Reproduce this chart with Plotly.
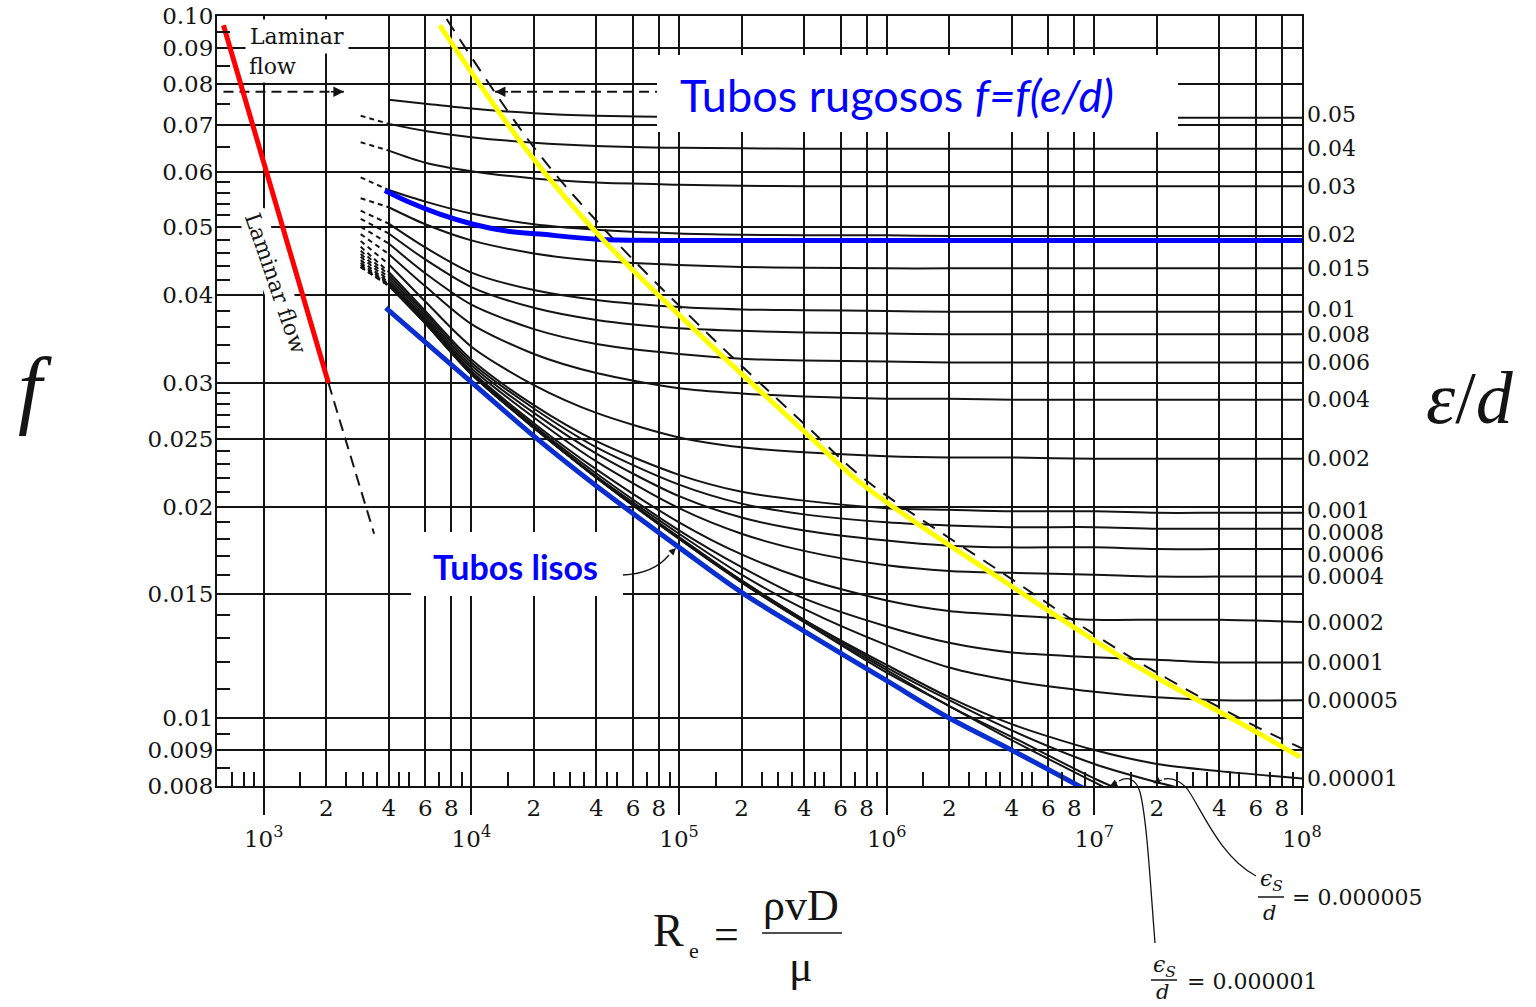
import math
import plotly.graph_objects as go

# ---------------- data ----------------
re_grid = [4e3, 6e3, 1e4, 2e4, 4e4, 1e5, 2e5, 4e5, 1e6, 2e6, 4e6, 1e7, 2e7, 4e7, 1e8]

rough_labels = ["0.05", "0.04", "0.03", "0.02", "0.015", "0.01", "0.008", "0.006", "0.004",
                "0.002", "0.001", "0.0008", "0.0006", "0.0004", "0.0002", "0.0001",
                "0.00005", "0.00001"]

f_0_05 = [0.0760, 0.0750, 0.0738, 0.0727, 0.0721, 0.0718, 0.0717, 0.0716, 0.0716, 0.0716, 0.0716, 0.0716, 0.0716, 0.0716, 0.0716]
f_0_04 = [0.0702, 0.0686, 0.0672, 0.0660, 0.0653, 0.0649, 0.0648, 0.0647, 0.0647, 0.0647, 0.0647, 0.0647, 0.0647, 0.0647, 0.0647]
f_0_03 = [0.0643, 0.0618, 0.0601, 0.0587, 0.0579, 0.0575, 0.0573, 0.0572, 0.0572, 0.0572, 0.0572, 0.0572, 0.0572, 0.0572, 0.0572]
f_0_02 = [0.0565, 0.0544, 0.0523, 0.0505, 0.0496, 0.0490, 0.0488, 0.0487, 0.0487, 0.0486, 0.0486, 0.0486, 0.0486, 0.0486, 0.0486]
f_0_015 = [0.0534, 0.0505, 0.0479, 0.0459, 0.0448, 0.0442, 0.0439, 0.0438, 0.0437, 0.0437, 0.0437, 0.0437, 0.0437, 0.0437, 0.0437]
f_0_01 = [0.0506, 0.0468, 0.0431, 0.0407, 0.0394, 0.0385, 0.0382, 0.0381, 0.0380, 0.0379, 0.0379, 0.0379, 0.0379, 0.0379, 0.0379]
f_0_008 = [0.0490, 0.0450, 0.0411, 0.0384, 0.0369, 0.0359, 0.0356, 0.0354, 0.0353, 0.0352, 0.0352, 0.0352, 0.0352, 0.0352, 0.0352]
f_0_006 = [0.0474, 0.0430, 0.0388, 0.0358, 0.0341, 0.0330, 0.0325, 0.0323, 0.0322, 0.0321, 0.0321, 0.0321, 0.0321, 0.0321, 0.0321]
f_0_004 = [0.0458, 0.0412, 0.0364, 0.0330, 0.0310, 0.0295, 0.0290, 0.0287, 0.0285, 0.0285, 0.0284, 0.0284, 0.0284, 0.0284, 0.0284]
f_0_002 = [0.0443, 0.0392, 0.0338, 0.0298, 0.0272, 0.0251, 0.0243, 0.0239, 0.0236, 0.0235, 0.0235, 0.0234, 0.0234, 0.0234, 0.0234]
f_0_001 = [0.0432, 0.0380, 0.0324, 0.0279, 0.0248, 0.0222, 0.0210, 0.0204, 0.0199, 0.0198, 0.0197, 0.0197, 0.0196, 0.0196, 0.0196]
f_0_0008 = [0.0428, 0.0377, 0.0321, 0.0276, 0.0243, 0.0215, 0.0202, 0.0195, 0.0190, 0.0188, 0.0187, 0.0187, 0.0186, 0.0186, 0.0186]
f_0_0006 = [0.0424, 0.0374, 0.0318, 0.0272, 0.0238, 0.0207, 0.0193, 0.0185, 0.0179, 0.0176, 0.0175, 0.0175, 0.0174, 0.0174, 0.0174]
f_0_0004 = [0.0420, 0.0371, 0.0315, 0.0268, 0.0232, 0.0199, 0.0183, 0.0173, 0.0165, 0.0162, 0.0161, 0.0160, 0.0159, 0.0159, 0.0159]
f_0_0002 = [0.0417, 0.0369, 0.0312, 0.0263, 0.0226, 0.0190, 0.0171, 0.0158, 0.0147, 0.0142, 0.0140, 0.0138, 0.0138, 0.0138, 0.0137]
f_0_0001 = [0.0415, 0.0367, 0.0310, 0.0261, 0.0223, 0.0185, 0.0164, 0.0148, 0.0135, 0.0128, 0.0124, 0.0122, 0.0121, 0.0120, 0.0120]
f_0_00005 = [0.0414, 0.0366, 0.0310, 0.0260, 0.0221, 0.0183, 0.0160, 0.0143, 0.0127, 0.0118, 0.0113, 0.0109, 0.0107, 0.0106, 0.0106]
f_0_00001 = [0.0413, 0.0365, 0.0309, 0.0259, 0.0220, 0.0181, 0.0157, 0.0138, 0.0119, 0.0107, 0.0098, 0.0090, 0.0086, 0.0084, 0.0082]
f_0_000005 = [0.0413, 0.0365, 0.0309, 0.0259, 0.0220, 0.0180, 0.0157, 0.0138, 0.0118, 0.0106, 0.0096, 0.0086, 0.0081, 0.0077, None]
f_0_000001 = [0.0413, 0.0365, 0.0309, 0.0259, 0.0220, 0.0180, 0.0156, 0.0137, 0.0117, 0.0104, 0.0094, 0.0082, 0.0075, None, None]
f_smooth = [0.0413, 0.0365, 0.0309, 0.0259, 0.0220, 0.0180, 0.0156, 0.0137, 0.0116, 0.0104, 0.0093, 0.0081, 0.0073, None, None]

# dashed transition stubs (curves 0.04 ... smooth), from Re=2930 to Re=4000
stub_re = [2930, 4000]
stub_start_f = [0.0721, 0.0661, 0.0589, 0.0550, 0.0528, 0.0514, 0.0501, 0.0489, 0.0478, 0.0469,
                0.0463, 0.0458, 0.0454, 0.0449, 0.0445, 0.0442, 0.0439, 0.0439, 0.0439, 0.0439]

laminar_re = [640, 2050]
laminar_f = [0.097, 0.030]
laminar_ext_re = [2050, 3400]
laminar_ext_f = [0.030, 0.0183]

rough_limit_re = [7.04e3, 1.91e4, 4.25e4, 1.361e5, 4.126e5, 7.67e5, 3.51e6, 1.484e7, 5.62e7, 9.8e7]
rough_limit_f = [0.0970, 0.0636, 0.0482, 0.0344, 0.0254, 0.0215, 0.0158, 0.0120, 0.00966, 0.0088]
rough_dash_re = [7.6e3, 2.0e4, 4.5e4, 1.4e5, 4.2e5, 7.8e5, 3.6e6, 1.5e7, 5.7e7, 1e8]
rough_dash_f = [0.0990, 0.0650, 0.0492, 0.0351, 0.0259, 0.0219, 0.0161, 0.0122, 0.0098, 0.00905]

lisos_re = [3.87e3, 1e4, 2e4, 4e4, 1e5, 2e5, 4e5, 1e6, 2e6, 4e6, 1.03e7]
lisos_f = [0.0384, 0.0301, 0.0252, 0.0214, 0.0175, 0.0151, 0.0133, 0.0113, 0.0100, 0.00900, 0.00775]

blue_002_re = [3.83e3, 4.87e3, 7.04e3, 1.019e4, 1.476e4, 2.136e4, 4.018e4, 8.356e4, 1e8]
blue_002_f = [0.0564, 0.0545, 0.0522, 0.0505, 0.0494, 0.0489, 0.0481, 0.0479, 0.0479]

arrow_left_re = [640, 2430]
arrow_right_re = [1.3e4, 1.0e5]
arrow_f = 0.078

y_major = [0.008, 0.009, 0.01, 0.015, 0.02, 0.025, 0.03, 0.04, 0.05, 0.06, 0.07, 0.08, 0.09, 0.10]
y_major_text = ["0.008", "0.009", "0.01", "0.015", "0.02", "0.025", "0.03", "0.04", "0.05",
                "0.06", "0.07", "0.08", "0.09", "0.10"]
y_minor = [0.095, 0.085, 0.075, 0.065, 0.058, 0.056, 0.054, 0.052, 0.048, 0.046, 0.044, 0.042,
           0.038, 0.036, 0.034, 0.032, 0.029, 0.028, 0.027, 0.026, 0.024, 0.023, 0.022, 0.021,
           0.019, 0.018, 0.017, 0.016, 0.014, 0.013, 0.012, 0.011, 0.0095, 0.0085]
decades = [1e3, 1e4, 1e5, 1e6, 1e7, 1e8]
decade_text = ["10<sup>3</sup>", "10<sup>4</sup>", "10<sup>5</sup>", "10<sup>6</sup>",
               "10<sup>7</sup>", "10<sup>8</sup>"]
sub_mult = [2, 4, 6, 8]
minor_mult = [1.5, 2.5, 3, 3.5, 4.5, 5, 7, 9]

# ---------------- layout geometry (page pixels of the reference) ----------------
W_FIG, H_FIG = 1536, 1007
L, T, W, H = 217, 16, 1085, 770   # plot area in page pixels


def px(x):
    return (x - L) / W


def py(y):
    return (T + H - y) / H


BLACK = "#141414"
SERIF = "DejaVu Serif"
TIMES = "Liberation Serif"
SANS = "Lato"

fig = go.Figure()

curves = [f_0_05, f_0_04, f_0_03, f_0_02, f_0_015, f_0_01, f_0_008, f_0_006, f_0_004,
          f_0_002, f_0_001, f_0_0008, f_0_0006, f_0_0004, f_0_0002, f_0_0001,
          f_0_00005, f_0_00001, f_0_000005, f_0_000001, f_smooth]

for fv in curves:
    fig.add_trace(go.Scatter(x=re_grid, y=fv, mode="lines", connectgaps=False,
                             line=dict(color=BLACK, width=2, shape="spline", smoothing=0.8),
                             hoverinfo="skip", showlegend=False))

for f0, fv in zip(stub_start_f, curves[1:]):
    fig.add_trace(go.Scatter(x=stub_re, y=[f0, fv[0]], mode="lines",
                             line=dict(color=BLACK, width=2, dash="5px,4px"),
                             hoverinfo="skip", showlegend=False))

# dashed helper lines
fig.add_trace(go.Scatter(x=laminar_ext_re, y=laminar_ext_f, mode="lines",
                         line=dict(color=BLACK, width=2, dash="12px,7px"),
                         hoverinfo="skip", showlegend=False))
fig.add_trace(go.Scatter(x=rough_dash_re, y=rough_dash_f, mode="lines",
                         line=dict(color=BLACK, width=2, dash="14px,10px", shape="spline"),
                         hoverinfo="skip", showlegend=False))
for xs in (arrow_left_re, arrow_right_re):
    fig.add_trace(go.Scatter(x=xs, y=[arrow_f, arrow_f], mode="lines",
                             line=dict(color=BLACK, width=1.8, dash="10px,6px"),
                             hoverinfo="skip", showlegend=False))

# coloured overlays
fig.add_trace(go.Scatter(x=blue_002_re, y=blue_002_f, mode="lines",
                         line=dict(color="#0000ff", width=5, shape="spline"),
                         hoverinfo="skip", showlegend=False))
fig.add_trace(go.Scatter(x=lisos_re, y=lisos_f, mode="lines",
                         line=dict(color="#0a2fd0", width=5, shape="spline"),
                         hoverinfo="skip", showlegend=False))
fig.add_trace(go.Scatter(x=rough_limit_re, y=rough_limit_f, mode="lines",
                         line=dict(color="#ffff00", width=5, shape="spline"),
                         hoverinfo="skip", showlegend=False))
fig.add_trace(go.Scatter(x=laminar_re, y=laminar_f, mode="lines",
                         line=dict(color="#ff0000", width=5),
                         hoverinfo="skip", showlegend=False))

# dummy traces so overlay axes are drawn
fig.add_trace(go.Scatter(x=[1e4], y=[0.05], xaxis="x2", yaxis="y", mode="markers",
                         marker=dict(opacity=0), hoverinfo="skip", showlegend=False))
fig.add_trace(go.Scatter(x=[1e4], y=[0.05], xaxis="x3", yaxis="y", mode="markers",
                         marker=dict(opacity=0), hoverinfo="skip", showlegend=False))
fig.add_trace(go.Scatter(x=[1e4], y=[0.05], xaxis="x", yaxis="y2", mode="markers",
                         marker=dict(opacity=0), hoverinfo="skip", showlegend=False))

xrange = [2.775, 8.0]
yrange = [math.log10(0.008), -1.0]

x_sub = [m * d for d in decades[:-1] for m in sub_mult]
x_sub_text = [str(m) for d in decades[:-1] for m in sub_mult]
x_minor = [700, 800, 900] + [m * d for d in decades[:-1] for m in minor_mult]

tickfont = dict(family=SERIF, size=23, color=BLACK)

fig.update_layout(
    width=W_FIG, height=H_FIG,
    margin=dict(l=L, r=W_FIG - L - W, t=T, b=H_FIG - T - H, autoexpand=False),
    paper_bgcolor="white", plot_bgcolor="white", showlegend=False,
    xaxis=dict(type="log", range=xrange, tickmode="array", tickvals=x_sub, ticktext=x_sub_text,
               ticks="", showgrid=True, gridcolor=BLACK, gridwidth=1.8, showline=True,
               linecolor=BLACK, linewidth=2, mirror=True, zeroline=False, tickfont=tickfont,
               ticklabelstandoff=0, ticklabeloverflow="allow", fixedrange=True),
    xaxis2=dict(type="log", range=xrange, overlaying="x", anchor="y", side="bottom",
                tickmode="array", tickvals=decades, ticktext=decade_text, ticks="outside",
                ticklen=28, tickwidth=2, tickcolor=BLACK, showgrid=True, gridcolor=BLACK,
                gridwidth=1.8, showline=False, zeroline=False, tickfont=tickfont,
                ticklabelstandoff=4, ticklabeloverflow="allow", fixedrange=True),
    xaxis3=dict(type="log", range=xrange, overlaying="x", anchor="y", side="bottom",
                tickmode="array", tickvals=x_minor, ticks="inside", ticklen=14, tickwidth=1.8,
                tickcolor=BLACK, showticklabels=False, showgrid=False, showline=False,
                zeroline=False, fixedrange=True),
    yaxis=dict(type="log", range=yrange, tickmode="array", tickvals=y_major, ticktext=y_major_text,
               ticks="", showgrid=True, gridcolor=BLACK, gridwidth=1.8, showline=True,
               linecolor=BLACK, linewidth=2, mirror=True, zeroline=False, tickfont=tickfont,
               ticklabelstandoff=-3, ticklabeloverflow="allow", fixedrange=True),
    yaxis2=dict(type="log", range=yrange, overlaying="y", anchor="x", side="left",
                tickmode="array", tickvals=y_minor, ticks="inside", ticklen=13, tickwidth=1.8,
                tickcolor=BLACK, showticklabels=False, showgrid=False, showline=False,
                zeroline=False, fixedrange=True),
)

shapes = []
annotations = []

# white boxes
shapes.append(dict(type="rect", xref="paper", yref="paper", x0=px(657), x1=px(1178),
                   y0=py(132), y1=py(55), fillcolor="white", line=dict(width=0), layer="above"))
shapes.append(dict(type="rect", xref="paper", yref="paper", x0=px(411), x1=px(623),
                   y0=py(596), y1=py(532), fillcolor="white", line=dict(width=0), layer="above"))

annotations.append(dict(xref="paper", yref="paper", x=px(897), y=py(95), showarrow=False,
                        text="Tubos rugosos <i>f=f(e/d)</i>", xanchor="center", yanchor="middle",
                        font=dict(family=SANS, size=45, color="#0000ff")))
annotations.append(dict(xref="paper", yref="paper", x=px(515), y=py(566), showarrow=False,
                        text="<b>Tubos lisos</b>", xanchor="center", yanchor="middle",
                        font=dict(family=SANS, size=34, color="#0000ff")))

# laminar flow labels
annotations.append(dict(xref="paper", yref="paper", x=px(245), y=py(36), showarrow=False,
                        text="Laminar", xanchor="left", yanchor="middle", bgcolor="white",
                        borderpad=4, font=dict(family=SERIF, size=22, color=BLACK)))
annotations.append(dict(xref="paper", yref="paper", x=px(245), y=py(66), showarrow=False,
                        text="flow", xanchor="left", yanchor="middle", bgcolor="white",
                        borderpad=3, font=dict(family=SERIF, size=22, color=BLACK)))
annotations.append(dict(xref="paper", yref="paper", x=px(275), y=py(283), showarrow=False,
                        text="Laminar flow", textangle=71, xanchor="center", yanchor="middle",
                        bgcolor="white", borderpad=1, font=dict(family=SERIF, size=22, color=BLACK)))

# arrow heads of the dashed arrows
annotations.append(dict(x=math.log10(arrow_left_re[1]), y=math.log10(arrow_f), xref="x", yref="y",
                        text=" ", showarrow=True, ax=-16, ay=0, arrowhead=2, arrowsize=1.3,
                        arrowwidth=1.6, arrowcolor=BLACK, standoff=0))
annotations.append(dict(x=math.log10(arrow_right_re[0]), y=math.log10(arrow_f), xref="x", yref="y",
                        text=" ", showarrow=True, ax=16, ay=0, arrowhead=2, arrowsize=1.3,
                        arrowwidth=1.6, arrowcolor=BLACK, standoff=0))

# right-hand roughness labels
label_shift = {"0.05": 3, "0.01": 2, "0.001": 2, "0.0008": -4, "0.0006": -5, "0.02": 1}
for lab, fv in zip(rough_labels, curves):
    last = [v for v in fv if v is not None][-1]
    annotations.append(dict(xref="paper", yref="y", x=1.0, y=math.log10(last), xshift=3,
                            yshift=label_shift.get(lab, 0), text=lab, showarrow=False,
                            xanchor="left", yanchor="middle",
                            font=dict(family=SERIF, size=22, color=BLACK)))

# axis symbols
annotations.append(dict(xref="paper", yref="paper", x=px(35), y=py(388), showarrow=False,
                        text="<i>f</i>", xanchor="center", yanchor="middle",
                        font=dict(family=TIMES, size=86, color=BLACK)))
annotations.append(dict(xref="paper", yref="paper", x=px(1470), y=py(398), showarrow=False,
                        text="<i>ε</i>/<i>d</i>", xanchor="center", yanchor="middle",
                        font=dict(family=TIMES, size=74, color=BLACK)))

# Reynolds number formula
annotations.append(dict(xref="paper", yref="paper", x=px(668), y=py(931), showarrow=False,
                        text="R", xanchor="center", yanchor="middle",
                        font=dict(family=TIMES, size=46, color=BLACK)))
annotations.append(dict(xref="paper", yref="paper", x=px(694), y=py(950), showarrow=False,
                        text="e", xanchor="center", yanchor="middle",
                        font=dict(family=TIMES, size=22, color=BLACK)))
annotations.append(dict(xref="paper", yref="paper", x=px(726), y=py(934), showarrow=False,
                        text="=", xanchor="center", yanchor="middle",
                        font=dict(family=TIMES, size=44, color=BLACK)))
annotations.append(dict(xref="paper", yref="paper", x=px(801), y=py(905), showarrow=False,
                        text="ρvD", xanchor="center", yanchor="middle",
                        font=dict(family=TIMES, size=44, color=BLACK)))
annotations.append(dict(xref="paper", yref="paper", x=px(801), y=py(966), showarrow=False,
                        text="μ", xanchor="center", yanchor="middle",
                        font=dict(family=TIMES, size=44, color=BLACK)))
shapes.append(dict(type="line", xref="paper", yref="paper", x0=px(762), x1=px(842),
                   y0=py(933), y1=py(933), line=dict(color=BLACK, width=1.5)))

# eps_s / d call-outs
for (cx, ey, dy, by, tx, ty, val) in [(1271, 880, 913, 897, 1290, 897, "0.000005"),
                                        (1164, 966, 992, 980, 1185, 981, "0.000001")]:
    annotations.append(dict(xref="paper", yref="paper", x=px(cx), y=py(ey), showarrow=False,
                            text="<i>ϵ<sub>S</sub></i>", xanchor="center", yanchor="middle",
                            font=dict(family=SERIF, size=22, color=BLACK)))
    annotations.append(dict(xref="paper", yref="paper", x=px(cx - 2), y=py(dy), showarrow=False,
                            text="<i>d</i>", xanchor="center", yanchor="middle",
                            font=dict(family=SERIF, size=21, color=BLACK)))
    shapes.append(dict(type="line", xref="paper", yref="paper", x0=px(cx - 13), x1=px(cx + 13),
                       y0=py(by), y1=py(by), line=dict(color=BLACK, width=1.5)))
    annotations.append(dict(xref="paper", yref="paper", x=px(tx), y=py(ty), showarrow=False,
                            text="= " + val, xanchor="left", yanchor="middle",
                            font=dict(family=SERIF, size=22, color=BLACK)))


def path_px(points):
    (x0, y0), rest = points[0], points[1:]
    s = f"M {px(x0):.5f} {py(y0):.5f}"
    for i in range(0, len(rest), 3):
        (a, b), (c, d), (e, f) = rest[i:i + 3]
        s += f" C {px(a):.5f} {py(b):.5f} {px(c):.5f} {py(d):.5f} {px(e):.5f} {py(f):.5f}"
    return s


leaders = [
    [(1256, 876), (1222, 858), (1204, 815), (1190, 793), (1184, 783), (1174, 777), (1164, 779)],
    [(1155, 943), (1150, 880), (1147, 820), (1140, 792), (1136, 779), (1128, 776), (1119, 781)],
    [(623, 575), (645, 574), (660, 566), (669, 555)],
]
for pts in leaders:
    shapes.append(dict(type="path", xref="paper", yref="paper", path=path_px(pts),
                       line=dict(color=BLACK, width=1.3), layer="above"))

for (tx, ty, ax, ay) in [(1153, 783, 12, -4), (1110, 786, 10, -5), (676, 548, -8, 8)]:
    annotations.append(dict(xref="paper", yref="paper", x=px(tx), y=py(ty), text=" ",
                            showarrow=True, ax=ax, ay=ay, arrowhead=2, arrowsize=1.1,
                            arrowwidth=1.3, arrowcolor=BLACK, standoff=0))

fig.update_layout(shapes=shapes, annotations=annotations)

# remove the default page margin so the figure sits at the window's top-left corner
fig.write_html("out.html", config={"displayModeBar": False, "staticPlot": False},
               post_script="document.body.style.margin='0';document.body.style.overflow='hidden';")
